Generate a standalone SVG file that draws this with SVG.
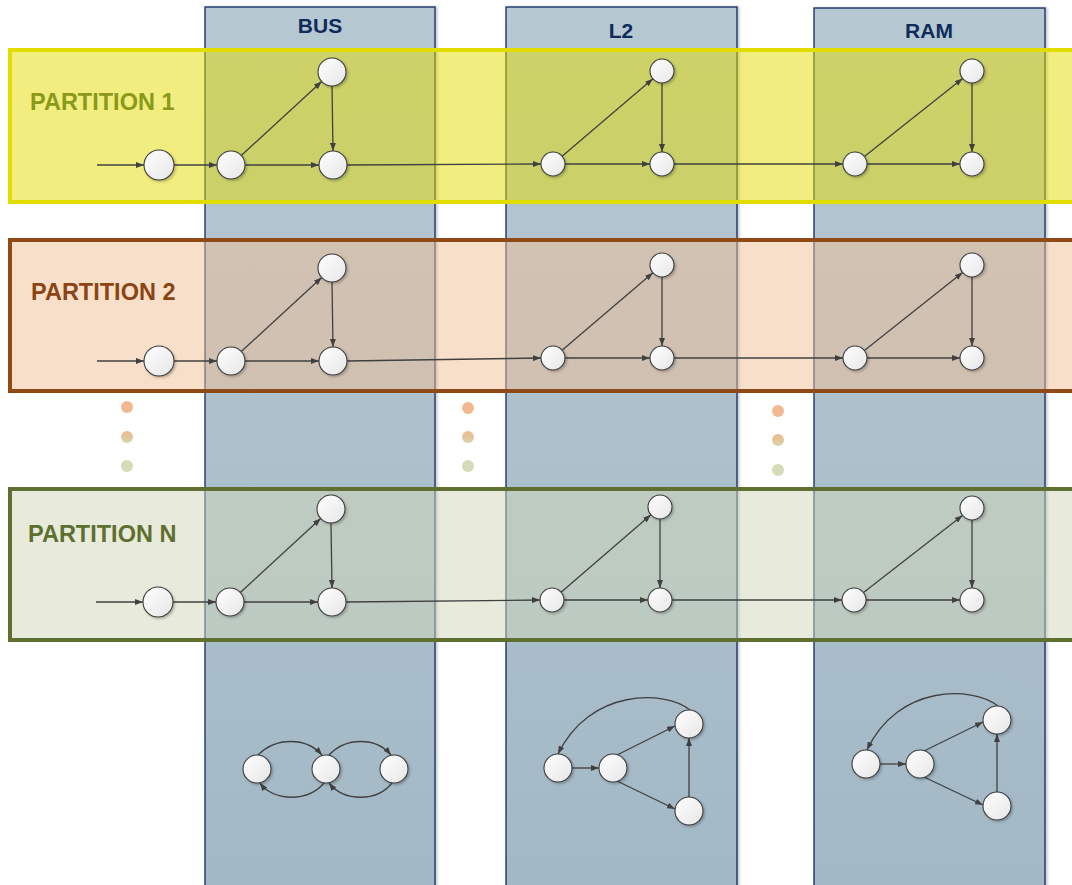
<svg xmlns="http://www.w3.org/2000/svg" width="1072" height="885" viewBox="0 0 1072 885">
  <defs>
    <linearGradient id="colFill" x1="0" y1="0" x2="0" y2="1">
      <stop offset="0" stop-color="#b6c8d2"/>
      <stop offset="1" stop-color="#a3b8c6"/>
    </linearGradient>
    <linearGradient id="nodeFill" x1="0" y1="0" x2="1" y2="1">
      <stop offset="0" stop-color="#ffffff"/>
      <stop offset="1" stop-color="#e6e6e6"/>
    </linearGradient>
    <linearGradient id="dotMid" x1="0" y1="0" x2="0" y2="1">
      <stop offset="0" stop-color="#efb88c"/>
      <stop offset="1" stop-color="#d6d4ac"/>
    </linearGradient>
    <filter id="nodeShadow" x="-30%" y="-30%" width="170%" height="170%">
      <feDropShadow dx="1.5" dy="1.5" stdDeviation="1" flood-color="#000" flood-opacity="0.25"/>
    </filter>
    <filter id="colShadow" x="-5%" y="-5%" width="110%" height="110%">
      <feDropShadow dx="2" dy="0" stdDeviation="1" flood-color="#000" flood-opacity="0.2"/>
    </filter>
    <marker id="arrow" viewBox="0 0 8 6" refX="8" refY="3" markerWidth="8" markerHeight="6" markerUnits="userSpaceOnUse" orient="auto">
      <path d="M0,0 L8,3 L0,6 z" fill="#404040"/>
    </marker>
    <style>
      .col { fill: url(#colFill); stroke: #1a3669; stroke-width: 1.4; filter: url(#colShadow); }
      .colTitle { font-family: "Liberation Sans", Arial, sans-serif; font-weight: bold; font-size: 21px; fill: #0f2b5b; text-anchor: middle; }
      .band { stroke-width: 4; }
      .p1 { fill: rgba(227,219,0,0.5); stroke: #e2dd00; }
      .p2 { fill: rgba(241,191,149,0.5); stroke: #904a17; }
      .pn { fill: rgba(209,215,183,0.5); stroke: #5f6f30; }
      .pLabel { font-family: "Liberation Sans", Arial, sans-serif; font-weight: bold; font-size: 23.5px; }
      .node circle { fill: url(#nodeFill); stroke: #3c3c3c; stroke-width: 1.1; filter: url(#nodeShadow); }
      .edges line, .edges path { stroke: #404040; stroke-width: 1.3; fill: none; marker-end: url(#arrow); }
    </style>
  </defs>

  <!-- memory-level columns -->
  <g id="col-bus">
    <rect class="col" x="205" y="7" width="230" height="890"/>
    <text class="colTitle" x="320" y="33">BUS</text>
  </g>
  <g id="col-l2">
    <rect class="col" x="506" y="7" width="231" height="890"/>
    <text class="colTitle" x="621" y="38">L2</text>
  </g>
  <g id="col-ram">
    <rect class="col" x="814" y="8" width="231" height="890"/>
    <text class="colTitle" x="929" y="38">RAM</text>
  </g>

  <!-- partition bands -->
  <g id="partition-1">
    <rect class="band p1" x="10" y="50" width="1090" height="152"/>
    <text class="pLabel" x="30" y="110" fill="#8a9a18">PARTITION 1</text>
  </g>
  <g id="partition-2">
    <rect class="band p2" x="10" y="240" width="1090" height="151"/>
    <text class="pLabel" x="31" y="300" fill="#8b4514">PARTITION 2</text>
  </g>
  <g id="partition-n">
    <rect class="band pn" x="10" y="489" width="1090" height="151"/>
    <text class="pLabel" x="28" y="542" fill="#5f6f2f">PARTITION N</text>
  </g>

  <!-- continuation dots -->
  <g id="dots">
    <circle cx="127" cy="407" r="6" fill="#f2b88f"/>
    <circle cx="127" cy="437" r="6" fill="url(#dotMid)"/>
    <circle cx="127" cy="466" r="6" fill="#d4dcb8"/>
    <circle cx="468" cy="408" r="6" fill="#f2b88f"/>
    <circle cx="468" cy="437" r="6" fill="url(#dotMid)"/>
    <circle cx="468" cy="466" r="6" fill="#d4dcb8"/>
    <circle cx="778" cy="411" r="6" fill="#f2b88f"/>
    <circle cx="778" cy="440" r="6" fill="url(#dotMid)"/>
    <circle cx="778" cy="470" r="6" fill="#d4dcb8"/>
  </g>

  <!-- connectors -->
  <g id="connectors" class="edges">
    <!-- partition 1 -->
    <line x1="97" y1="165" x2="144" y2="165"/>
    <line x1="174" y1="165" x2="217" y2="165"/>
    <line x1="241.3" y1="155.5" x2="321.7" y2="81.5"/>
    <line x1="332" y1="86" x2="333" y2="151"/>
    <line x1="245" y1="165" x2="319" y2="165"/>
    <line x1="347" y1="165" x2="541" y2="164"/>
    <line x1="562.1" y1="156.2" x2="652.9" y2="78.8"/>
    <line x1="662" y1="83" x2="662" y2="152"/>
    <line x1="565" y1="164" x2="650" y2="164"/>
    <line x1="674" y1="164" x2="843" y2="164"/>
    <line x1="864.4" y1="156.5" x2="962.6" y2="78.5"/>
    <line x1="972" y1="83" x2="972" y2="152"/>
    <line x1="867" y1="164" x2="960" y2="164"/>
    <!-- partition 2 -->
    <line x1="97" y1="361" x2="144" y2="361"/>
    <line x1="174" y1="361" x2="217" y2="361"/>
    <line x1="241.3" y1="351.5" x2="321.7" y2="277.5"/>
    <line x1="332" y1="282" x2="333" y2="347"/>
    <line x1="245" y1="361" x2="319" y2="361"/>
    <line x1="347" y1="361" x2="541" y2="358"/>
    <line x1="562.1" y1="350.2" x2="652.9" y2="272.8"/>
    <line x1="662" y1="277" x2="662" y2="346"/>
    <line x1="565" y1="358" x2="650" y2="358"/>
    <line x1="674" y1="358" x2="843" y2="358"/>
    <line x1="864.4" y1="350.5" x2="962.6" y2="272.5"/>
    <line x1="972" y1="277" x2="972" y2="346"/>
    <line x1="867" y1="358" x2="960" y2="358"/>
    <!-- partition N -->
    <line x1="96" y1="602" x2="143" y2="602"/>
    <line x1="173" y1="602" x2="216" y2="602"/>
    <line x1="240.3" y1="592.5" x2="320.7" y2="518.5"/>
    <line x1="331" y1="523" x2="332" y2="588"/>
    <line x1="244" y1="602" x2="318" y2="602"/>
    <line x1="346" y1="602" x2="540" y2="600"/>
    <line x1="561.1" y1="592.2" x2="650.9" y2="514.8"/>
    <line x1="660" y1="519" x2="660" y2="588"/>
    <line x1="564" y1="600" x2="648" y2="600"/>
    <line x1="672" y1="600" x2="842" y2="600"/>
    <line x1="863.5" y1="592.6" x2="962.5" y2="515.4"/>
    <line x1="972" y1="520" x2="972" y2="588"/>
    <line x1="866" y1="600" x2="960" y2="600"/>
    <!-- BUS state graph -->
    <path d="M258,755 C276,737 306,737 322,755"/>
    <path d="M329,755 C346,737 376,737 391,755"/>
    <path d="M324,783 C308,802 274,802 260,783"/>
    <path d="M392,783 C377,802 344,802 329,783"/>
    <!-- L2 state graph -->
    <line x1="572" y1="768" x2="599" y2="768"/>
    <line x1="617" y1="755" x2="675" y2="726"/>
    <line x1="617" y1="781" x2="675" y2="809"/>
    <line x1="689" y1="797" x2="689" y2="738"/>
    <path d="M690,710 C665,690 590,688 558,754"/>
    <!-- RAM state graph -->
    <line x1="880" y1="764" x2="906" y2="764"/>
    <line x1="924" y1="751" x2="983" y2="722"/>
    <line x1="924" y1="777" x2="983" y2="805"/>
    <line x1="997" y1="792" x2="997" y2="734"/>
    <path d="M998,706 C972,686 898,684 867,750"/>
  </g>

  <!-- partition 1 nodes -->
  <g id="p1-in" class="node"><circle cx="159" cy="165" r="15"/></g>
  <g id="p1-bus-a" class="node"><circle cx="231" cy="165" r="14"/></g>
  <g id="p1-bus-t" class="node"><circle cx="332" cy="72" r="14"/></g>
  <g id="p1-bus-c" class="node"><circle cx="333" cy="165" r="14"/></g>
  <g id="p1-l2-a" class="node"><circle cx="553" cy="164" r="12"/></g>
  <g id="p1-l2-t" class="node"><circle cx="662" cy="71" r="12"/></g>
  <g id="p1-l2-c" class="node"><circle cx="662" cy="164" r="12"/></g>
  <g id="p1-ram-a" class="node"><circle cx="855" cy="164" r="12"/></g>
  <g id="p1-ram-t" class="node"><circle cx="972" cy="71" r="12"/></g>
  <g id="p1-ram-c" class="node"><circle cx="972" cy="164" r="12"/></g>

  <!-- partition 2 nodes -->
  <g id="p2-in" class="node"><circle cx="159" cy="361" r="15"/></g>
  <g id="p2-bus-a" class="node"><circle cx="231" cy="361" r="14"/></g>
  <g id="p2-bus-t" class="node"><circle cx="332" cy="268" r="14"/></g>
  <g id="p2-bus-c" class="node"><circle cx="333" cy="361" r="14"/></g>
  <g id="p2-l2-a" class="node"><circle cx="553" cy="358" r="12"/></g>
  <g id="p2-l2-t" class="node"><circle cx="662" cy="265" r="12"/></g>
  <g id="p2-l2-c" class="node"><circle cx="662" cy="358" r="12"/></g>
  <g id="p2-ram-a" class="node"><circle cx="855" cy="358" r="12"/></g>
  <g id="p2-ram-t" class="node"><circle cx="972" cy="265" r="12"/></g>
  <g id="p2-ram-c" class="node"><circle cx="972" cy="358" r="12"/></g>

  <!-- partition N nodes -->
  <g id="pn-in" class="node"><circle cx="158" cy="602" r="15"/></g>
  <g id="pn-bus-a" class="node"><circle cx="230" cy="602" r="14"/></g>
  <g id="pn-bus-t" class="node"><circle cx="331" cy="509" r="14"/></g>
  <g id="pn-bus-c" class="node"><circle cx="332" cy="602" r="14"/></g>
  <g id="pn-l2-a" class="node"><circle cx="552" cy="600" r="12"/></g>
  <g id="pn-l2-t" class="node"><circle cx="660" cy="507" r="12"/></g>
  <g id="pn-l2-c" class="node"><circle cx="660" cy="600" r="12"/></g>
  <g id="pn-ram-a" class="node"><circle cx="854" cy="600" r="12"/></g>
  <g id="pn-ram-t" class="node"><circle cx="972" cy="508" r="12"/></g>
  <g id="pn-ram-c" class="node"><circle cx="972" cy="600" r="12"/></g>

  <!-- per-level state graphs -->
  <g id="bus-s1" class="node"><circle cx="257" cy="769" r="14"/></g>
  <g id="bus-s2" class="node"><circle cx="326" cy="769" r="14"/></g>
  <g id="bus-s3" class="node"><circle cx="394" cy="769" r="14"/></g>
  <g id="l2-s1" class="node"><circle cx="558" cy="768" r="14"/></g>
  <g id="l2-s2" class="node"><circle cx="613" cy="768" r="14"/></g>
  <g id="l2-s3" class="node"><circle cx="689" cy="724" r="14"/></g>
  <g id="l2-s4" class="node"><circle cx="689" cy="811" r="14"/></g>
  <g id="ram-s1" class="node"><circle cx="866" cy="764" r="14"/></g>
  <g id="ram-s2" class="node"><circle cx="920" cy="764" r="14"/></g>
  <g id="ram-s3" class="node"><circle cx="997" cy="720" r="14"/></g>
  <g id="ram-s4" class="node"><circle cx="997" cy="806" r="14"/></g>
</svg>
